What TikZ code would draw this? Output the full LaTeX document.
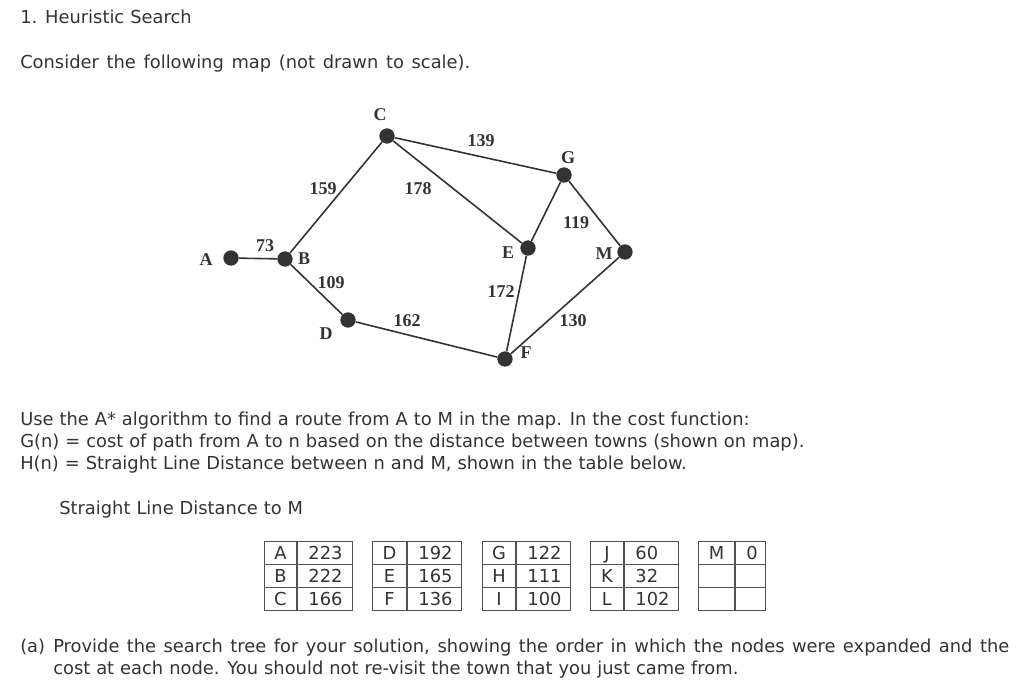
\documentclass[tikz,border=0pt]{standalone}
\usepackage{fontspec}
\setmainfont[WordSpace=1.05]{DejaVu Sans}
\newfontfamily\mapfont{Liberation Serif}
\usetikzlibrary{positioning}
\definecolor{ink}{gray}{0.2}

\begin{document}
\begin{tikzpicture}[
  x=0.75pt,y=-0.75pt, font=\fontsize{13.4}{15}\selectfont, text=ink,
  town/.style={circle,fill=ink,inner sep=0pt,minimum size=11.5pt},
  road/.style={draw=ink,line width=1.2pt},
  lab/.style={font=\mapfont\bfseries\fontsize{13.5}{14}\selectfont,inner sep=0pt},
  line/.style={anchor=base west,inner sep=0pt},
  cell/.style={draw=ink!85,line width=0.7pt,minimum height=17.25pt,inner sep=0pt,text height=9.8pt,text depth=0pt,anchor=north west}
]
\useasboundingbox (0,0) rectangle (1024,681);
% header
\node[line] (title) at (20,24) {1. Heuristic Search};
\node[line] (intro) at (20,69) {\makebox[337.5pt][s]{Consider the following map (not drawn to scale).}};
% towns
\node[town] (A) at (231,258) {};
\node[town] (B) at (285,259) {};
\node[town] (C) at (387,136) {};
\node[town] (D) at (348,320) {};
\node[town] (E) at (528,248) {};
\node[town] (F) at (505,359) {};
\node[town] (G) at (564,175) {};
\node[town] (M) at (625,252) {};
% roads
\draw[road] (A) -- (B);
\draw[road] (B) -- (C);
\draw[road] (B) -- (D);
\draw[road] (C) -- (G);
\draw[road] (C) -- (E);
\draw[road] (D) -- (F);
\draw[road] (E) -- (G);
\draw[road] (E) -- (F);
\draw[road] (G) -- (M);
\draw[road] (F) -- (M);
% town names
\node[lab] (lA) at (206,260) {A};
\node[lab] (lB) at (304,259) {B};
\node[lab] (lC) at (380,115) {C};
\node[lab] (lD) at (326,334) {D};
\node[lab] (lE) at (508,253) {E};
\node[lab] (lF) at (526,353) {F};
\node[lab] (lG) at (568,158) {G};
\node[lab] (lM) at (604,254) {M};
% distances
\node[lab] (d73) at (265,246) {73};
\node[lab] (d159) at (323,189) {159};
\node[lab] (d109) at (331,283) {109};
\node[lab] (d178) at (418,189) {178};
\node[lab] (d139) at (481,141) {139};
\node[lab] (d162) at (407,321) {162};
\node[lab] (d172) at (501,292) {172};
\node[lab] (d119) at (576,223) {119};
\node[lab] (d130) at (573,321) {130};
% question text
\node[line] (use) at (20,425) {Use the A* algorithm to find a route from A to M in the map. In the cost function:};
\node[line] (gn) at (20,447) {G(n) = cost of path from A to n based on the distance between towns (shown on map).};
\node[line] (hn) at (20,469) {H(n) = Straight Line Distance between n and M, shown in the table below.};
\node[line] (sld) at (59,514) {Straight Line Distance to M};
% distance tables
\foreach \tx/\wa/\wb/\la/\va/\lb/\vb/\lc/\vc in {
  264/32/55/A/223/B/222/C/166,
  372/34/54/D/192/E/165/F/136,
  482/33/54/G/122/H/111/I/100,
  590/33/54/J/60/K/32/L/102,
  698/36/30/M/0/ / / / } {
  \foreach \ty/\ltr/\val in {541/\la/\va,564/\lb/\vb,587/\lc/\vc} {
    \node[cell,minimum width=\wa*0.75pt] (l\tx\ty) at (\tx,\ty) {\ltr};
    \node[cell,minimum width=\wb*0.75pt,right=0pt of l\tx\ty.north east,anchor=north west] (v\tx\ty)
      {\makebox[\dimexpr 0.75pt*\wb\relax][l]{\hspace{8.3pt}\val}};
  }
}
% part (a)
\node[line] (pa) at (20,652) {(a)};
\node[line] (pb) at (53,652) {\makebox[717pt][s]{Provide the search tree for your solution, showing the order in which the nodes were expanded and the}};
\node[line] (pc) at (53,674) {cost at each node. You should not re-visit the town that you just came from.};
\end{tikzpicture}
\end{document}
